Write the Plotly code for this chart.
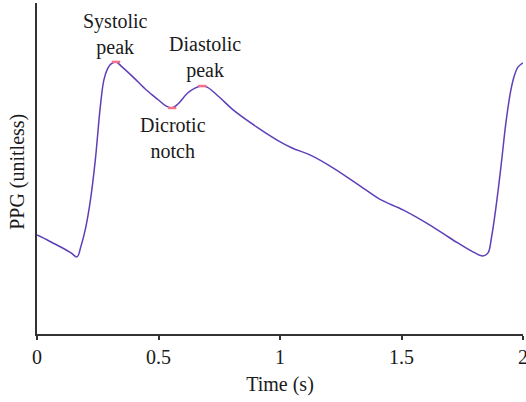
import plotly.graph_objects as go

# Time (s) and PPG (unitless, normalized)
time_s = [0.000, 0.050, 0.100, 0.140, 0.165, 0.180, 0.200, 0.220, 0.240, 0.260,
          0.275, 0.290, 0.305, 0.325, 0.350, 0.400, 0.450, 0.500, 0.530, 0.556,
          0.580, 0.620, 0.650, 0.680, 0.700, 0.750, 0.807, 0.905, 0.988, 1.050,
          1.123, 1.218, 1.342, 1.416, 1.506, 1.617, 1.712, 1.794, 1.835,
          1.856, 1.870, 1.890, 1.910, 1.930, 1.950, 1.965, 1.980, 2.000]
ppg = [0.299, 0.281, 0.262, 0.245, 0.233, 0.263, 0.320, 0.405, 0.526, 0.683,
       0.767, 0.801, 0.816, 0.822, 0.807, 0.773, 0.737, 0.707, 0.689, 0.683,
       0.695, 0.728, 0.743, 0.749, 0.746, 0.716, 0.677, 0.625, 0.586, 0.562,
       0.541, 0.502, 0.441, 0.405, 0.375, 0.329, 0.284, 0.248, 0.236,
       0.245, 0.290, 0.390, 0.510, 0.640, 0.737, 0.782, 0.807, 0.819]

# Characteristic points
feature_t = [0.325, 0.556, 0.680]
feature_v = [0.822, 0.683, 0.749]

# Annotation labels and anchor positions
label_text = ["Systolic<br>peak", "Dicrotic<br>notch", "Diastolic<br>peak"]
label_t = [0.325, 0.560, 0.691]
label_v = [0.906, 0.592, 0.834]

x_ticks = [0, 0.5, 1, 1.5, 2]
x_tick_text = ["0", "0.5", "1", "1.5", "2"]

FONT = "Liberation Serif"
LINE = "#5e3fb8"
PINK = "#f2708a"
AXIS = "#333333"
TXT = "#1a1a1a"
FS = 20

fig = go.Figure()
fig.add_trace(go.Scatter(
    x=time_s, y=ppg, mode="lines",
    line=dict(color=LINE, width=1.5, shape="spline", smoothing=1.0),
    hoverinfo="skip", showlegend=False))
fig.add_trace(go.Scatter(
    x=feature_t, y=feature_v, mode="markers",
    marker=dict(symbol="line-ew", size=6, line=dict(color=PINK, width=2.5)),
    hoverinfo="skip", showlegend=False))

for txt, tx, ty in zip(label_text, label_t, label_v):
    fig.add_annotation(x=tx, y=ty, xref="x", yref="y", text=txt, showarrow=False,
                       xanchor="center", yanchor="middle",
                       font=dict(family=FONT, size=FS, color=TXT))

fig.add_annotation(x=-0.039, y=0.49, xref="paper", yref="paper",
                   text="PPG (unitless)", showarrow=False, textangle=-90,
                   xanchor="center", yanchor="middle",
                   font=dict(family=FONT, size=FS, color=TXT))

fig.update_layout(
    width=526, height=402,
    margin=dict(l=37, r=3, t=3, b=68),
    paper_bgcolor="white", plot_bgcolor="white",
    font=dict(family=FONT, size=FS, color=TXT),
    xaxis=dict(range=[0, 2], tickvals=x_ticks, ticktext=x_tick_text,
               showgrid=False, zeroline=False, showline=True, automargin=False,
               linecolor=AXIS, linewidth=1.5, ticks="outside", ticklen=4,
               tickcolor=AXIS, tickwidth=1.5, ticklabeloverflow="allow",
               tickfont=dict(family=FONT, size=FS, color=TXT),
               title=dict(text="Time (s)", font=dict(family=FONT, size=FS, color=TXT),
                          standoff=10)),
    yaxis=dict(range=[0, 1], showgrid=False, zeroline=False, showline=True,
               automargin=False, linecolor=AXIS, linewidth=1.5,
               showticklabels=False, ticks=""),
)

fig.write_html("out.html", config={"displayModeBar": False},
               post_script="document.body.style.margin='0';document.body.style.overflow='hidden';")
